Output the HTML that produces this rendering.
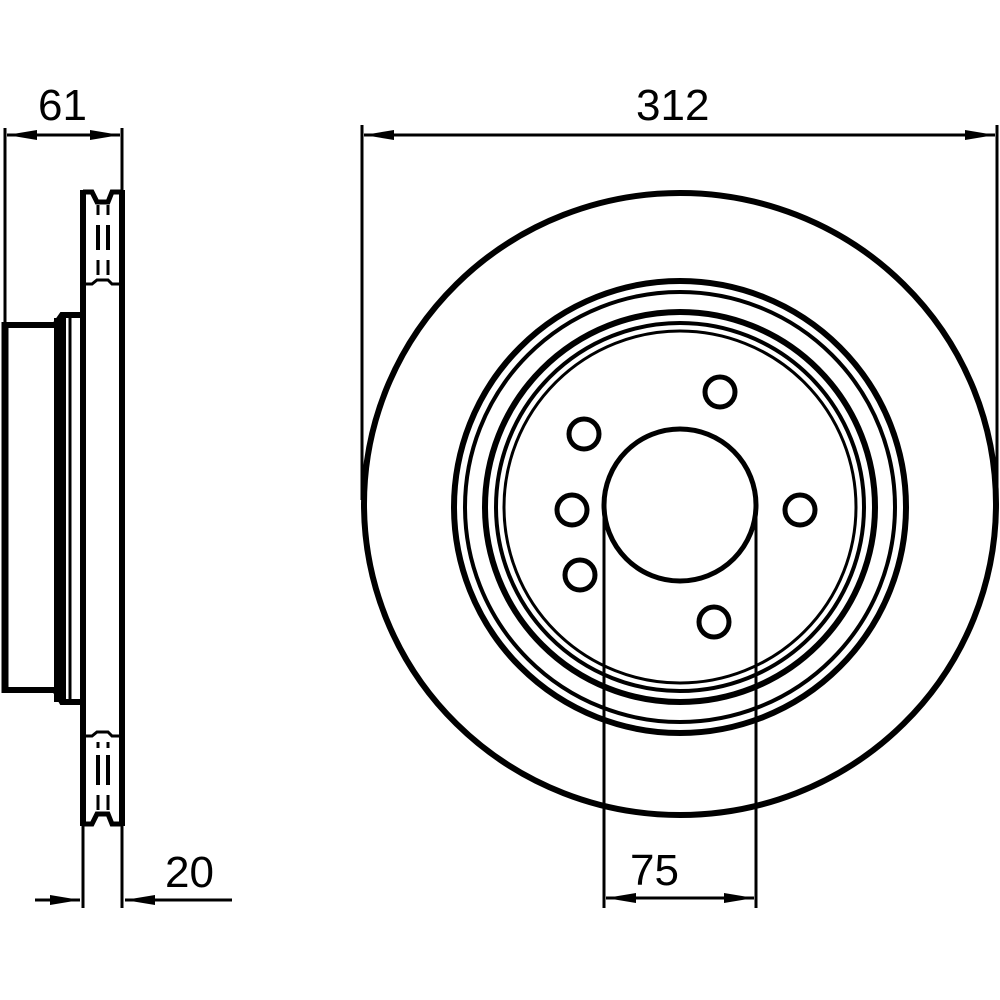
<!DOCTYPE html>
<html><head><style>body{margin:0;background:#fff}svg{display:block}text{font-family:"Liberation Sans",sans-serif;font-size:44px;fill:#000}</style></head>
<body>
<svg width="1000" height="1000" viewBox="0 0 1000 1000" xmlns="http://www.w3.org/2000/svg">
<defs>
<marker id="a" markerWidth="30" markerHeight="12" refX="30" refY="6" orient="auto-start-reverse" markerUnits="userSpaceOnUse"><path d="M0,1 L30,6 L0,11 Z" fill="#000"/></marker>
</defs>
<g fill="none" stroke="#000">
<!-- left profile -->
<path d="M5,128 V325" stroke-width="3"/>
<path d="M122,128 V190" stroke-width="3"/>
<line x1="7" y1="135" x2="120" y2="135" stroke-width="3" marker-start="url(#a)" marker-end="url(#a)"/>
<path d="M83,190 V826 M122,190 V826" stroke-width="6"/>
<path d="M83,192 H92 L97,202 H108 L112,192 H122" stroke-width="5"/>
<path d="M83,284 H92 L97,280 H108 L112,284 H122" stroke-width="3"/>
<path d="M83,736 H92 L97,732 H108 L112,736 H122" stroke-width="3"/>
<path d="M83,824 H92 L97,814 H108 L112,824 H122" stroke-width="5"/>
<path d="M98,225 V250 M108,225 V250 M98,755 V785 M108,755 V785" stroke-width="4"/>
<path d="M98,205 V215 M108,205 V215 M98,260 V275 M108,260 V275 M98,742 V748 M108,742 V748 M98,795 V810 M108,795 V810" stroke-width="3"/>
<path d="M5,322 V693" stroke-width="7"/>
<path d="M3,325 H55 L62,315 H80" stroke-width="6"/>
<path d="M3,690 H55 L62,702 H80" stroke-width="6"/>
<path d="M60,318 V702" stroke-width="12"/>
<path d="M70,318 V702" stroke-width="3"/>
<path d="M83,826 V908 M122,826 V908" stroke-width="3"/>
<line x1="35" y1="900" x2="80" y2="900" stroke-width="3" marker-end="url(#a)"/>
<line x1="232" y1="900" x2="125" y2="900" stroke-width="3" marker-end="url(#a)"/>
<!-- disc -->
<path d="M362,125 V500 M997,125 V500" stroke-width="3"/>
<line x1="364" y1="135" x2="995" y2="135" stroke-width="3" marker-start="url(#a)" marker-end="url(#a)"/>
<ellipse cx="680" cy="504" rx="316" ry="311" stroke-width="6"/>
<circle cx="680" cy="507" r="226" stroke-width="6"/>
<circle cx="680" cy="507" r="215" stroke-width="4"/>
<circle cx="680" cy="507" r="195" stroke-width="6"/>
<circle cx="680" cy="507" r="184" stroke-width="4"/>
<circle cx="680" cy="507" r="176" stroke-width="3"/>
<circle cx="680" cy="505" r="76" stroke-width="5"/>
<g stroke-width="5">
<circle cx="720" cy="392" r="15"/>
<circle cx="584" cy="434" r="15"/>
<circle cx="572" cy="510" r="15"/>
<circle cx="580" cy="575" r="15"/>
<circle cx="714" cy="622" r="15"/>
<circle cx="800" cy="510" r="15"/>
</g>
<path d="M604,505 V908 M756,505 V908" stroke-width="3"/>
<line x1="606" y1="898" x2="754" y2="898" stroke-width="3" marker-start="url(#a)" marker-end="url(#a)"/>
</g>
<text x="38" y="120">61</text>
<text x="636" y="120">312</text>
<text x="165" y="887">20</text>
<text x="630" y="885">75</text>
</svg>
</body></html>
